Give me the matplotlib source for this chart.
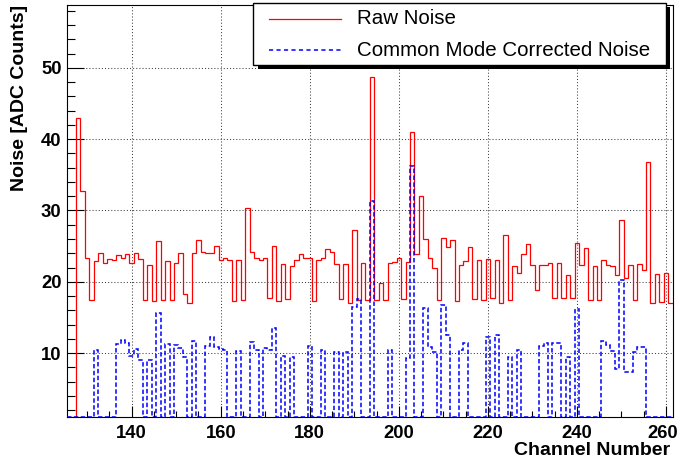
import numpy as np
import matplotlib
matplotlib.use("Agg")
import matplotlib.pyplot as plt
from matplotlib.patches import Rectangle
from matplotlib.lines import Line2D
from matplotlib.ticker import MultipleLocator
from matplotlib.transforms import ScaledTranslation

# Per-channel noise, channels 126 .. 261 (one bin per channel)
first_channel = 126

raw_noise = [
    0.0, 0.0,
    43.0, 32.8, 23.4, 17.5, 22.9, 24.0, 22.6, 23.2, 23.0, 23.7,
    23.3, 23.9, 22.6, 24.0, 23.2, 17.4, 22.3, 17.3, 25.7, 17.4,
    22.9, 17.5, 22.6, 24.0, 18.3, 17.0, 24.0, 25.9, 24.2, 24.0,
    24.0, 25.0, 23.0, 23.3, 23.0, 17.3, 23.0, 17.5, 30.3, 24.2,
    23.3, 23.1, 23.4, 17.7, 25.0, 17.3, 22.5, 17.6, 22.2, 23.1,
    23.9, 23.4, 23.4, 17.3, 23.1, 23.4, 24.6, 24.2, 22.5, 17.6,
    22.5, 17.0, 27.3, 17.5, 22.7, 17.5, 48.7, 17.5, 19.8, 17.5,
    22.6, 22.8, 23.4, 17.6, 22.8, 41.0, 23.9, 32.1, 26.0, 23.4,
    21.9, 17.5, 26.1, 24.9, 25.9, 17.3, 22.3, 22.9, 24.9, 17.6,
    23.0, 17.5, 23.2, 17.8, 23.1, 17.1, 26.6, 17.4, 22.2, 21.3,
    23.9, 25.3, 22.3, 18.8, 22.4, 22.4, 22.7, 17.7, 22.7, 17.7,
    21.0, 17.7, 25.4, 22.3, 24.8, 17.4, 22.2, 17.4, 23.0, 22.3,
    22.2, 21.0, 28.7, 20.5, 22.3, 17.5, 22.5, 21.7, 36.8, 17.1,
    21.1, 17.2, 21.3, 17.0,
]

cm_noise = [
    0.0, 0.0,
    0.0, 0.0, 0.0, 0.0, 10.4, 0.0, 0.0, 0.0, 0.0, 11.3,
    11.9, 11.4, 9.6, 10.6, 9.1, 0.0, 9.0, 0.0, 15.7, 0.0,
    11.3, 0.0, 11.1, 10.7, 9.4, 0.0, 11.7, 0.0, 0.0, 11.0,
    12.3, 10.8, 10.6, 10.5, 0.0, 0.0, 10.3, 0.0, 0.0, 11.5,
    10.4, 0.0, 10.7, 10.5, 13.6, 0.0, 9.6, 0.0, 9.4, 0.0,
    0.0, 0.0, 11.0, 0.0, 0.0, 10.4, 0.0, 0.0, 10.1, 0.0,
    10.2, 0.0, 16.5, 17.6, 0.0, 0.0, 31.4, 0.0, 0.0, 0.0,
    10.4, 0.0, 0.0, 0.0, 9.3, 36.3, 0.0, 0.0, 16.3, 10.9,
    10.2, 0.0, 16.7, 12.5, 0.0, 0.0, 10.5, 11.4, 0.0, 0.0,
    0.0, 0.0, 12.3, 0.0, 12.5, 0.0, 0.0, 9.4, 0.0, 10.4,
    0.0, 0.0, 0.0, 0.0, 11.0, 11.4, 0.0, 11.4, 11.4, 0.0,
    9.4, 0.0, 16.2, 0.0, 0.0, 0.0, 0.0, 0.0, 11.7, 11.1,
    10.3, 7.8, 20.3, 7.4, 7.4, 10.1, 10.9, 10.9, 0.0, 0.0,
    0.0, 0.0, 0.0, 0.0,
]

x_ticks = [140, 160, 180, 200, 220, 240, 260]
y_ticks = [10, 20, 30, 40, 50]
x_title = "Channel Number"
y_title = "Noise [ADC Counts]"
legend_labels = ["Raw Noise", "Common Mode Corrected Noise"]

plt.rcParams['font.family'] = ['Liberation Sans', 'DejaVu Sans']
plt.rcParams['font.weight'] = 'bold'

W, H = 680, 461
fig = plt.figure(figsize=(W / 100, H / 100), dpi=100)
fig.patch.set_facecolor('white')

# frame in pixel units: left 67, right 673, top 5, bottom 417
ax = fig.add_axes([67.1 / W, 1 - 416.7 / H, (672.7 - 67.1) / W, (416.7 - 5.0) / H])

channels = np.arange(first_channel, first_channel + len(raw_noise))
edges = np.append(channels - 0.5, channels[-1] + 0.5)
y_lo, y_hi = 1.1, 58.8
ax.set_xlim(edges[0], edges[-1])
ax.set_ylim(y_lo, y_hi)

raw = np.asarray(raw_noise)
cm = np.asarray(cm_noise)

# contents below the frame floor are drawn along the floor
ax.stairs(np.maximum(raw, y_lo), edges, baseline=None,
          color='#ff0000', linewidth=0.9, zorder=3)
ax.stairs(np.maximum(cm, y_lo), edges, baseline=None,
          color='#0000ff', linewidth=1.1, linestyle=(0, (2.9, 1.6)), zorder=4)

ax.set_xticks(x_ticks)
ax.set_xticklabels([str(v) for v in x_ticks])
ax.set_yticks(y_ticks)
ax.set_yticklabels([str(v) for v in y_ticks])
ax.xaxis.set_minor_locator(MultipleLocator(5))
ax.yaxis.set_minor_locator(MultipleLocator(2))

ax.grid(True, which='major', color='#404040', linestyle=(0, (1, 2)), linewidth=0.75)
ax.set_axisbelow(True)

ax.tick_params(which='both', direction='in', top=False, right=False, color='black')
ax.tick_params(axis='x', which='major', length=8, width=0.8, labelsize=13.3, pad=6)
ax.tick_params(axis='x', which='minor', length=4, width=0.8)
ax.tick_params(axis='y', which='major', length=12, width=0.8, labelsize=13.3, pad=4)
ax.tick_params(axis='y', which='minor', length=6, width=0.8)
for s in ax.spines.values():
    s.set_linewidth(0.8)
    s.set_color('black')

# keep the last x label inside the canvas
last = ax.get_xticklabels()[-1]
last.set_transform(last.get_transform()
                   + ScaledTranslation(-3 / 100, 0, fig.dpi_scale_trans))

fig.text(670 / W, 1 - 450 / H, x_title, ha='right', va='center',
         fontsize=14, fontweight='bold')
fig.text(20 / W, 1 - 5 / H, y_title, ha='center', va='top', rotation=90,
         fontsize=14, fontweight='bold')

# legend box with drop shadow, drawn in pixel coordinates
lax = fig.add_axes([0, 0, 1, 1], zorder=5)
lax.set_xlim(0, W)
lax.set_ylim(H, 0)
lax.axis('off')
lax.add_patch(Rectangle((258, 7.5), 412, 61.5, facecolor='black', edgecolor='none'))
lax.add_patch(Rectangle((253.3, 3.3), 412.7, 61.7, facecolor='white',
                        edgecolor='black', linewidth=1.0))
lax.add_line(Line2D([269, 341], [19, 19], color='#ff0000', linewidth=0.9))
lax.add_line(Line2D([269, 341], [50, 50], color='#0000ff', linewidth=1.1,
                    linestyle=(0, (2.7, 2.2))))
lax.text(357, 19, legend_labels[0], va='center', ha='left', fontsize=14.8,
         fontweight='normal')
lax.text(357, 50, legend_labels[1], va='center', ha='left', fontsize=14.8,
         fontweight='normal')

fig.savefig('out.png', dpi=100)
